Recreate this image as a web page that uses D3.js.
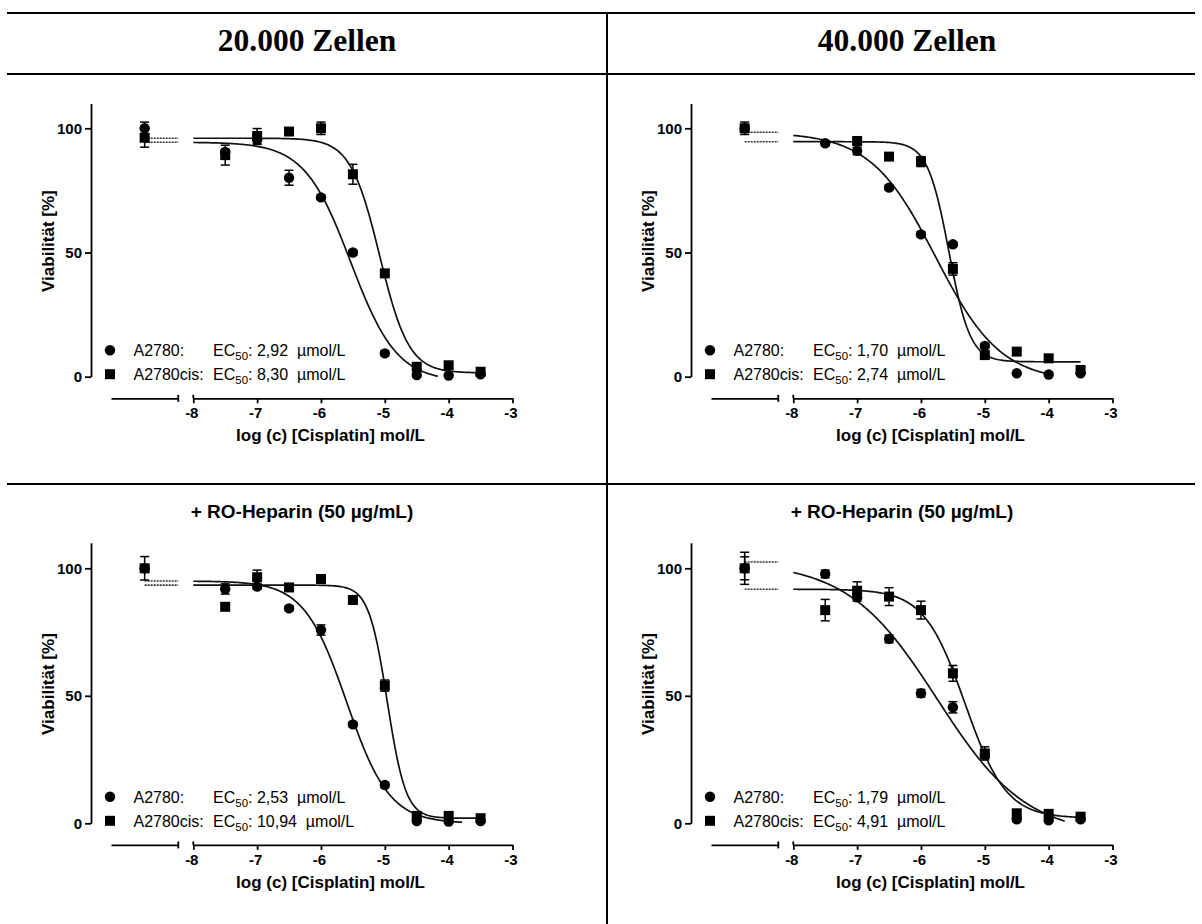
<!DOCTYPE html>
<html><head><meta charset="utf-8">
<script src="https://cdn.jsdelivr.net/npm/d3@7"></script>
<style>body{margin:0;background:#fff}svg{display:block}</style>
</head><body><svg id="c" width="1202" height="924"></svg>
<script>
// ---------- DATA ----------
const columnHeaders = ["20.000 Zellen", "40.000 Zellen"];
const panelTitles = ["", "", "+ RO-Heparin (50 µg/mL)", "+ RO-Heparin (50 µg/mL)"];
const seriesNames = ["A2780:", "A2780cis:"];
const ec50Labels = [["2,92", "8,30"], ["1,70", "2,74"], ["2,53", "10,94"], ["1,79", "4,91"]];
const logConc = [-7.5, -7, -6.5, -6, -5.5, -5, -4.5, -4, -3.5];
const xTicks = [-8, -7, -6, -5, -4, -3];
const yTicks = [0, 50, 100];

// untreated controls (plotted on the broken axis segment), per panel
const ctrlA2780 = [100, 100, 100, 100];
const ctrlA2780Err = [2.5, 1, 1, 4.5];
const ctrlCis = [96.2, 100, 100, 100];
const ctrlCisErr = [3.8, 2.5, 4.6, 6.3];

// panel 1: 20.000 Zellen
const p1A2780 = [90.5, 95.5, 80.1, 72.2, 50, 9.4, 0.7, 0.5, 1];
const p1A2780Err = [1, 2, 3, 1, 1, 1, 0.8, 0.5, 0.5];
const p1Cis = [89.2, 96.9, 98.7, 100, 81.5, 41.6, 4, 4.6, 2];
const p1CisErr = [4, 3, 1, 2.5, 4, 1, 1, 1, 1];
// panel 2: 40.000 Zellen
const p2A2780 = [94, 90.9, 76.1, 57.3, 53.3, 12.4, 1.4, 0.9, 1.4];
const p2A2780Err = [1, 1.5, 1, 1, 1, 1, 0.5, 0.5, 0.5];
const p2Cis = [null, 94.9, 88.6, 86.6, 43.4, 8.7, 10.1, 7.4, 2.7];
const p2CisErr = [0, 1.5, 1, 2, 2.5, 1, 1, 1, 1];
// panel 3: 20.000 Zellen + RO-Heparin
const p3A2780 = [91.9, 92.8, 84.3, 75.8, 38.8, 15, 0.9, 0.7, 0.9];
const p3A2780Err = [2, 1, 1, 2, 1, 1, 0.5, 0.5, 0.5];
const p3Cis = [84.9, 96.5, 92.5, 95.8, 87.6, 54, 2.9, 2.9, 2];
const p3CisErr = [1, 2.8, 1, 1, 1.5, 2.2, 1, 1, 1];
// panel 4: 40.000 Zellen + RO-Heparin
const p4A2780 = [97.8, 88.6, 72.3, 51, 45.5, 26.8, 1.6, 1.2, 1.6];
const p4A2780Err = [1.5, 1.5, 1.5, 1.5, 2.2, 1.5, 1, 0.5, 0.5];
const p4Cis = [83.6, 91.2, 88.9, 83.6, 58.8, 27.4, 3.9, 3.7, 2.6];
const p4CisErr = [4.2, 3.5, 3.5, 3.5, 3.1, 2.6, 1.5, 1, 1];

// fitted sigmoidal curves (top, bottom, logEC50, hill, last x) [A2780, A2780cis]
const p1Fit = {top: [94.4, 96.0], bottom: [-2, 1.5], logEC50: [-5.535, -5.081], hill: [1.2, 1.9], xEnd: [-4.17, -3.5]};
const p2Fit = {top: [98.4, 94.6], bottom: [-2, 6], logEC50: [-5.770, -5.562], hill: [0.85, 2.6], xEnd: [-3.95, -3.5]};
const p3Fit = {top: [95.0, 93.4], bottom: [0, 2], logEC50: [-5.597, -4.961], hill: [1.3, 3.0], xEnd: [-3.79, -3.5]};
const p4Fit = {top: [102.5, 91.8], bottom: [-5, 2], logEC50: [-5.747, -5.309], hill: [0.62, 1.35], xEnd: [-3.75, -3.5]};

const panelSeries = [
  [[p1A2780, p1A2780Err], [p1Cis, p1CisErr]],
  [[p2A2780, p2A2780Err], [p2Cis, p2CisErr]],
  [[p3A2780, p3A2780Err], [p3Cis, p3CisErr]],
  [[p4A2780, p4A2780Err], [p4Cis, p4CisErr]]
];
const panelFits = [p1Fit, p2Fit, p3Fit, p4Fit];
const ctrlVals = [ctrlA2780, ctrlCis];
const ctrlErrs = [ctrlA2780Err, ctrlCisErr];

// ---------- DRAW ----------
const svg = d3.select("#c");
const F = "'Liberation Sans', Arial, Helvetica, sans-serif";

// table lines
const grid = svg.append("g").attr("stroke", "#000").attr("stroke-width", 2).attr("fill", "none");
[13, 74, 484].forEach(y => grid.append("line").attr("x1", 7).attr("x2", 1195).attr("y1", y).attr("y2", y));
grid.append("line").attr("x1", 607).attr("x2", 607).attr("y1", 12).attr("y2", 924);

columnHeaders.forEach((h, i) => {
  svg.append("text").attr("x", 307 + i * 600).attr("y", 51)
    .attr("text-anchor", "middle").attr("font-family", "'Liberation Serif','Times New Roman',serif")
    .attr("font-weight", "bold").attr("font-size", 31.5).text(h);
});

function logistic(x, T, B, L, h) { return B + (T - B) / (1 + Math.pow(10, (x - L) * h)); }

function drawPanel(i) {
  const col = i % 2, row = Math.floor(i / 2);
  const dx = col * 600;
  const y0 = row ? 823.3 : 376.7, y100 = row ? 568.3 : 128.3;
  const axisY = y0 + 21.6;
  const yAxisX = 91 + dx;
  const y = d3.scaleLinear().domain([0, 110]).range([y0, y0 - (y0 - y100) * 1.1]);
  const x = d3.scaleLinear().domain([-8, -3]).range([193.3 + dx, 512.5 + dx]);
  const xc = d3.scaleLinear().domain([0, 1]).range([111 + dx, 178.3 + dx]);
  const g = svg.append("g");
  const fit = panelFits[i];

  // y axis
  const ya = g.append("g").attr("transform", `translate(${yAxisX},0)`)
    .call(d3.axisLeft(y).tickValues(yTicks).tickSize(6).tickSizeOuter(0).tickPadding(3));
  ya.select(".domain").attr("stroke-width", 1.8);
  ya.selectAll(".tick line").attr("stroke-width", 1.8);
  ya.selectAll(".tick text").attr("font-family", F).attr("font-weight", "bold").attr("font-size", 15)
    .attr("fill", "#000").attr("dy", "0.34em");

  // x axis, main segment
  const xa = g.append("g").attr("transform", `translate(0,${axisY})`)
    .call(d3.axisBottom(x).tickValues(xTicks).tickSize(5).tickSizeOuter(0).tickPadding(4).tickFormat(d3.format("d")));
  xa.select(".domain").attr("stroke-width", 1.8);
  xa.selectAll(".tick line").attr("stroke-width", 1.8);
  xa.selectAll(".tick text").attr("font-family", F).attr("font-weight", "bold").attr("font-size", 15)
    .attr("fill", "#000").attr("dx", -2).text(d => d3.format("d")(d).replace("−", "-"));
  g.append("line").attr("x1", x(-8)).attr("x2", x(-8)).attr("y1", axisY - 3.5).attr("y2", axisY)
    .attr("stroke", "#000").attr("stroke-width", 1.8);
  // x axis, control segment (broken axis)
  const xca = g.append("g").attr("transform", `translate(0,${axisY})`)
    .call(d3.axisBottom(xc).tickValues([]).tickSizeOuter(0));
  xca.select(".domain").attr("stroke-width", 1.8);
  g.append("line").attr("x1", xc(1)).attr("x2", xc(1)).attr("y1", axisY - 3.5).attr("y2", axisY + 3.5)
    .attr("stroke", "#000").attr("stroke-width", 1.8);

  // axis titles
  g.append("text").attr("x", x(-5.85)).attr("y", axisY + 43).attr("text-anchor", "middle")
    .attr("font-family", F).attr("font-weight", "bold").attr("font-size", 17).text("log (c) [Cisplatin] mol/L");
  g.append("text").attr("transform", `translate(${54 + dx},${y(54.6)}) rotate(-90)`).attr("text-anchor", "middle")
    .attr("font-family", F).attr("font-weight", "bold").attr("font-size", 17).text("Viabilität [%]");
  if (panelTitles[i]) {
    g.append("text").attr("x", 302 + dx).attr("y", 518).attr("text-anchor", "middle")
      .attr("font-family", F).attr("font-weight", "bold").attr("font-size", 19).text(panelTitles[i]);
  }

  // curves
  [0, 1].forEach(s => {
    const T = fit.top[s], B = fit.bottom[s], L = fit.logEC50[s], h = fit.hill[s];
    g.append("line").attr("x1", xc(0.5)).attr("x2", xc(1)).attr("y1", y(T)).attr("y2", y(T))
      .attr("stroke", "#333").attr("stroke-width", 1.6).attr("stroke-dasharray", "2,1");
    const pts = d3.range(-8, fit.xEnd[s] + 1e-9, 0.02).concat([fit.xEnd[s]]);
    g.append("path").datum(pts)
      .attr("d", d3.line().x(d => x(d)).y(d => y(logistic(d, T, B, L, h))).curve(d3.curveLinear))
      .attr("fill", "none").attr("stroke", "#111").attr("stroke-width", 1.7);
  });

  // points + error bars
  [0, 1].forEach(s => {
    const [vals, errs] = panelSeries[i][s];
    const pts = vals.map((v, k) => ({px: x(logConc[k]), v, e: errs[k]}))
      .concat([{px: xc(0.5), v: ctrlVals[s][i], e: ctrlErrs[s][i]}])
      .filter(p => p.v !== null);
    const eb = g.append("g").attr("stroke", "#000").attr("stroke-width", 1.5);
    pts.filter(p => p.e > 0).forEach(p => {
      eb.append("line").attr("x1", p.px).attr("x2", p.px).attr("y1", y(p.v - p.e)).attr("y2", y(p.v + p.e));
      [p.v - p.e, p.v + p.e].forEach(yy =>
        eb.append("line").attr("x1", p.px - 4.5).attr("x2", p.px + 4.5).attr("y1", y(yy)).attr("y2", y(yy)));
    });
    const mk = g.append("g").attr("fill", "#000");
    if (s === 0) {
      mk.selectAll("circle").data(pts).join("circle").attr("cx", p => p.px).attr("cy", p => y(p.v)).attr("r", 5.2);
    } else {
      mk.selectAll("rect").data(pts).join("rect").attr("x", p => p.px - 5).attr("y", p => y(p.v) - 5)
        .attr("width", 10).attr("height", 10);
    }
  });

  // legend
  [0, 1].forEach(s => {
    const ly = y0 - (s === 0 ? 26.5 : 2.5);
    if (s === 0) g.append("circle").attr("cx", 110 + dx).attr("cy", ly).attr("r", 5.2);
    else g.append("rect").attr("x", 105 + dx).attr("y", ly - 5).attr("width", 10).attr("height", 10);
    g.append("text").attr("x", 133.5 + dx).attr("y", ly + 5.7).attr("font-family", F).attr("font-size", 16)
      .text(seriesNames[s]);
    const t = g.append("text").attr("x", 213 + dx).attr("y", ly + 5.7).attr("font-family", F).attr("font-size", 16)
      .style("white-space", "pre");
    t.append("tspan").text("EC");
    t.append("tspan").attr("font-size", 11.5).attr("dy", 4).text("50");
    t.append("tspan").attr("dy", -4).text(": " + ec50Labels[i][s] + "  µmol/L");
  });
}
[0, 1, 2, 3].forEach(drawPanel);
</script></body></html>
